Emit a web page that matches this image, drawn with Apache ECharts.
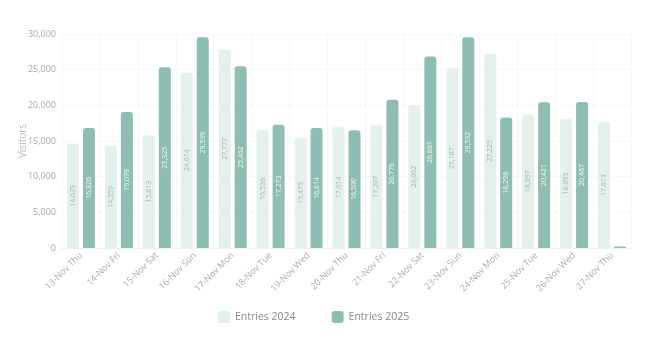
<!DOCTYPE html>
<html>
<head>
<meta charset="utf-8">
<script src="https://cdn.jsdelivr.net/npm/echarts@6/dist/echarts.min.js"></script>
<style>
  html, body { margin: 0; padding: 0; background: #fff; }
  #chart { width: 672px; height: 352px; }
</style>
</head>
<body>
<div id="chart"></div>
<script>
var days = ['13-Nov Thu', '14-Nov Fri', '15-Nov Sat', '16-Nov Sun', '17-Nov Mon', '18-Nov Tue', '19-Nov Wed',
    '20-Nov Thu', '21-Nov Fri', '22-Nov Sat', '23-Nov Sun', '24-Nov Mon', '25-Nov Tue', '26-Nov Wed', '27-Nov Thu'];
var entries2024 = [14629, 14359, 15813, 24614, 27777, 16536, 15475, 17014, 17207, 20002, 25187, 27225, 18697, 18093, 17613];
var entries2025 = [16826, 19078, 25325, 29539, 25462, 17273, 16814, 16500, 20776, 26861, 29532, 18296, 20421, 20467, 200];
var yTicks = [0, 5000, 10000, 15000, 20000, 25000, 30000];

var initChart = function () {
    var dom = document.getElementById('chart');
    var myChart = echarts.init(dom);
    var fmt = function (p) { return p.value.toLocaleString('en-US'); };
    var option = {
        animation: false,
        textStyle: { fontFamily: 'Open Sans' },
        grid: { left: 62, right: 41, top: 34, bottom: 104 },
        legend: {
            bottom: 24,
            left: 213,
            itemWidth: 12,
            itemHeight: 12,
            itemGap: 36,
            icon: 'roundRect',
            textStyle: { color: '#888', fontSize: 10.5 },
            data: ['Entries 2024', 'Entries 2025']
        },
        xAxis: {
            type: 'category',
            data: days,
            axisLine: { lineStyle: { color: '#eee' } },
            axisTick: { show: false },
            splitLine: { show: true, lineStyle: { color: '#f7f7f7' } },
            axisLabel: { rotate: 45, color: '#aaa', fontSize: 9, margin: 6, interval: 0 }
        },
        yAxis: {
            type: 'value',
            name: 'Visitors',
            nameLocation: 'middle',
            nameGap: 34,
            nameMoveOverlap: false,
            nameTextStyle: { color: '#bbb', fontSize: 10 },
            min: yTicks[0],
            max: yTicks[yTicks.length - 1],
            interval: 5000,
            axisLine: { show: false },
            axisTick: { show: false },
            splitLine: { lineStyle: { color: '#f7f7f7' } },
            axisLabel: {
                color: '#aaa', fontSize: 9, margin: 6,
                formatter: function (v) { return v.toLocaleString('en-US'); }
            }
        },
        series: [
            {
                name: 'Entries 2024',
                type: 'bar',
                data: entries2024,
                barWidth: 12,
                barGap: '33%',
                itemStyle: { color: '#e3f0ec', borderRadius: [3, 3, 0, 0] },
                label: { show: true, position: 'inside', rotate: 90, color: '#a9b5b2', fontSize: 7, formatter: fmt }
            },
            {
                name: 'Entries 2025',
                type: 'bar',
                data: entries2025,
                barWidth: 12,
                itemStyle: { color: '#8dbdb3', borderRadius: [3, 3, 0, 0] },
                label: {
                    show: true, position: 'inside', rotate: 90, color: '#f2f7f6', fontSize: 7,
                    formatter: function (p) { return p.value < 2000 ? '' : fmt(p); }
                }
            }
        ]
    };
    myChart.setOption(option);
};
initChart();
</script>
</body>
</html>
